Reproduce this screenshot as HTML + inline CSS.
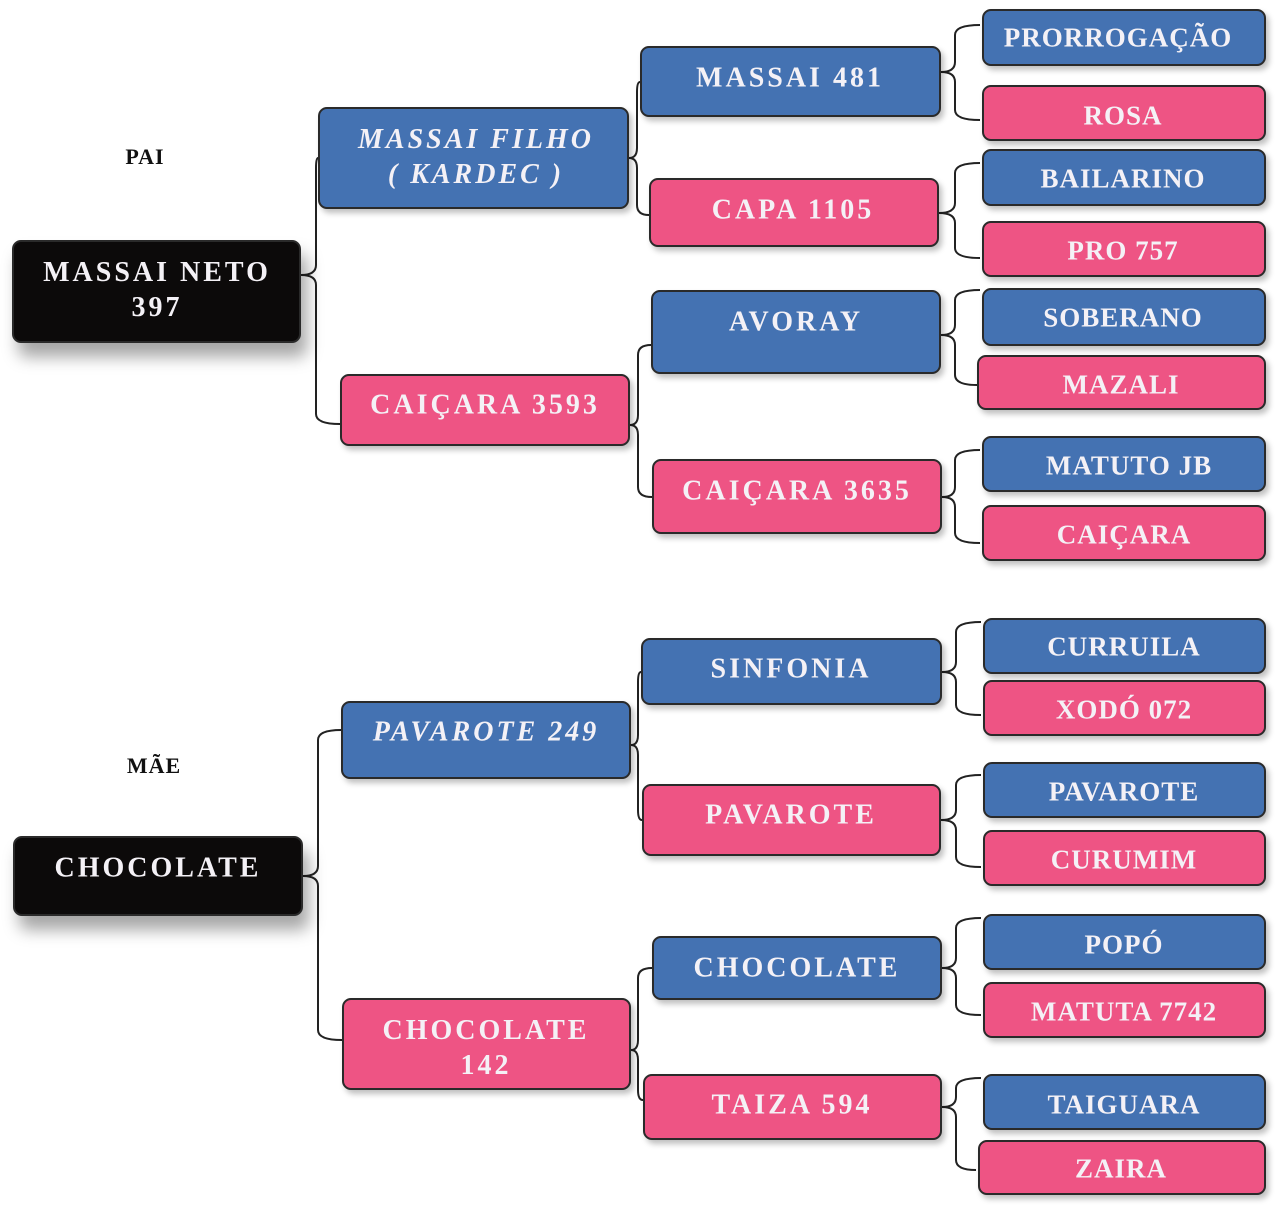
<!DOCTYPE html>
<html><head><meta charset="utf-8">
<style>
html,body{margin:0;padding:0;background:#fff;}
body{width:1280px;height:1209px;position:relative;overflow:hidden;font-family:"Liberation Serif",serif;}
.b{position:absolute;box-sizing:border-box;border:2px solid #2a2a2a;border-radius:9px;box-shadow:3px 4px 6px rgba(0,0,0,0.25);}
.bl{background:#4472b2;}
.pk{background:#ee5484;}
.bk{background:#0c0a0a;box-shadow:6px 14px 16px rgba(0,0,0,0.35);}
.t{position:absolute;transform:translate(-50%,-50%);color:#f4f1f6;font-weight:bold;font-size:28px;white-space:nowrap;letter-spacing:3px;line-height:35px;text-align:center;}
.s{font-size:27px;letter-spacing:1px;}
.i{font-style:italic;}
.lab{position:absolute;transform:translate(-50%,-50%);color:#111;font-weight:bold;font-size:22px;letter-spacing:1px;}
svg{position:absolute;left:0;top:0;}
</style></head><body>
<svg width="1280" height="1209" fill="none" stroke="#222" stroke-width="2">
<path d="M301 275 Q316 275 316 265 L316 168 Q316 158 318 158 M301 275 Q316 275 316 285 L316 414 Q316 424 340 424"/>
<path d="M303 876 Q318 876 318 866 L318 740 Q318 730 341 730 M303 876 Q318 876 318 886 L318 1030 Q318 1040 342 1040"/>
<path d="M629 158 Q637 158 637 148 L637 92 Q637 82 640 82 M629 158 Q637 158 637 168 L637 205 Q637 215 649 215"/>
<path d="M630 425 Q638 425 638 415 L638 355 Q638 345 651 345 M630 425 Q638 425 638 435 L638 487 Q638 497 652 497"/>
<path d="M631 745 Q638 745 638 735 L638 682 Q638 672 641 672 M631 745 Q638 745 638 755 L638 810 Q638 820 642 820"/>
<path d="M631 1050 Q638 1050 638 1040 L638 978 Q638 968 652 968 M631 1050 Q638 1050 638 1060 L638 1090 Q638 1100 643 1100"/>
<path d="M941 72 Q955 72 955 62 L955 35 Q955 25 980 25 M941 72 Q955 72 955 82 L955 110 Q955 120 980 120"/>
<path d="M939 213 Q955 213 955 203 L955 173 Q955 163 980 163 M939 213 Q955 213 955 223 L955 248 Q955 258 980 258"/>
<path d="M941 335 Q955 335 955 325 L955 300 Q955 290 980 290 M941 335 Q955 335 955 345 L955 375 Q955 385 977 385"/>
<path d="M942 497 Q955 497 955 487 L955 460 Q955 450 980 450 M942 497 Q955 497 955 507 L955 533 Q955 543 980 543"/>
<path d="M942 672 Q956 672 956 662 L956 632 Q956 622 981 622 M942 672 Q956 672 956 682 L956 705 Q956 715 981 715"/>
<path d="M941 820 Q956 820 956 810 L956 785 Q956 775 981 775 M941 820 Q956 820 956 830 L956 857 Q956 867 981 867"/>
<path d="M942 968 Q956 968 956 958 L956 928 Q956 918 981 918 M942 968 Q956 968 956 978 L956 1005 Q956 1015 981 1015"/>
<path d="M942 1107 Q956 1107 956 1097 L956 1088 Q956 1078 981 1078 M942 1107 Q956 1107 956 1117 L956 1160 Q956 1170 976 1170"/>
</svg>

<div class="lab" style="left:145px;top:157px">PAI</div>
<div class="lab" style="left:154px;top:766px">MÃE</div>

<div class="b bk" style="left:12px;top:240px;width:289px;height:103px"></div>
<div class="t" style="left:157px;top:290px">MASSAI NETO<br>397</div>
<div class="b bk" style="left:13px;top:836px;width:290px;height:80px"></div>
<div class="t" style="left:158px;top:868px">CHOCOLATE</div>

<div class="b bl" style="left:318px;top:107px;width:311px;height:102px"></div>
<div class="t i" style="left:476px;top:157px">MASSAI FILHO<br>( KARDEC )</div>
<div class="b pk" style="left:340px;top:374px;width:290px;height:72px"></div>
<div class="t" style="left:485px;top:405px">CAIÇARA 3593</div>
<div class="b bl" style="left:341px;top:701px;width:290px;height:78px"></div>
<div class="t i" style="left:486px;top:732px">PAVAROTE 249</div>
<div class="b pk" style="left:342px;top:998px;width:289px;height:92px"></div>
<div class="t" style="left:486px;top:1048px">CHOCOLATE<br>142</div>

<div class="b bl" style="left:640px;top:46px;width:301px;height:71px"></div>
<div class="t" style="left:790px;top:78px">MASSAI 481</div>
<div class="b pk" style="left:649px;top:178px;width:290px;height:69px"></div>
<div class="t" style="left:793px;top:210px">CAPA 1105</div>
<div class="b bl" style="left:651px;top:290px;width:290px;height:84px"></div>
<div class="t" style="left:796px;top:322px">AVORAY</div>
<div class="b pk" style="left:652px;top:459px;width:290px;height:75px"></div>
<div class="t" style="left:797px;top:491px">CAIÇARA 3635</div>
<div class="b bl" style="left:641px;top:638px;width:301px;height:67px"></div>
<div class="t" style="left:791px;top:669px">SINFONIA</div>
<div class="b pk" style="left:642px;top:784px;width:299px;height:72px"></div>
<div class="t" style="left:791px;top:815px">PAVAROTE</div>
<div class="b bl" style="left:652px;top:936px;width:290px;height:64px"></div>
<div class="t" style="left:797px;top:968px">CHOCOLATE</div>
<div class="b pk" style="left:643px;top:1074px;width:299px;height:66px"></div>
<div class="t" style="left:792px;top:1105px">TAIZA 594</div>

<div class="b bl" style="left:982px;top:9px;width:284px;height:57px"></div>
<div class="t s" style="left:1118px;top:38px">PRORROGAÇÃO</div>
<div class="b pk" style="left:982px;top:85px;width:284px;height:56px"></div>
<div class="t s" style="left:1123px;top:116px">ROSA</div>
<div class="b bl" style="left:982px;top:149px;width:284px;height:57px"></div>
<div class="t s" style="left:1123px;top:179px">BAILARINO</div>
<div class="b pk" style="left:982px;top:221px;width:284px;height:56px"></div>
<div class="t s" style="left:1123px;top:251px">PRO 757</div>
<div class="b bl" style="left:982px;top:288px;width:284px;height:58px"></div>
<div class="t s" style="left:1123px;top:318px">SOBERANO</div>
<div class="b pk" style="left:977px;top:355px;width:289px;height:55px"></div>
<div class="t s" style="left:1121px;top:385px">MAZALI</div>
<div class="b bl" style="left:982px;top:436px;width:284px;height:56px"></div>
<div class="t s" style="left:1129px;top:466px">MATUTO JB</div>
<div class="b pk" style="left:982px;top:505px;width:284px;height:56px"></div>
<div class="t s" style="left:1124px;top:535px">CAIÇARA</div>
<div class="b bl" style="left:983px;top:618px;width:283px;height:56px"></div>
<div class="t s" style="left:1124px;top:647px">CURRUILA</div>
<div class="b pk" style="left:983px;top:680px;width:283px;height:56px"></div>
<div class="t s" style="left:1124px;top:710px">XODÓ 072</div>
<div class="b bl" style="left:983px;top:762px;width:283px;height:56px"></div>
<div class="t s" style="left:1124px;top:792px">PAVAROTE</div>
<div class="b pk" style="left:983px;top:830px;width:283px;height:56px"></div>
<div class="t s" style="left:1124px;top:860px">CURUMIM</div>
<div class="b bl" style="left:983px;top:914px;width:283px;height:56px"></div>
<div class="t s" style="left:1124px;top:945px">POPÓ</div>
<div class="b pk" style="left:983px;top:982px;width:283px;height:56px"></div>
<div class="t s" style="left:1124px;top:1012px">MATUTA 7742</div>
<div class="b bl" style="left:983px;top:1074px;width:283px;height:56px"></div>
<div class="t s" style="left:1124px;top:1105px">TAIGUARA</div>
<div class="b pk" style="left:978px;top:1140px;width:288px;height:55px"></div>
<div class="t s" style="left:1121px;top:1169px">ZAIRA</div>
</body></html>
